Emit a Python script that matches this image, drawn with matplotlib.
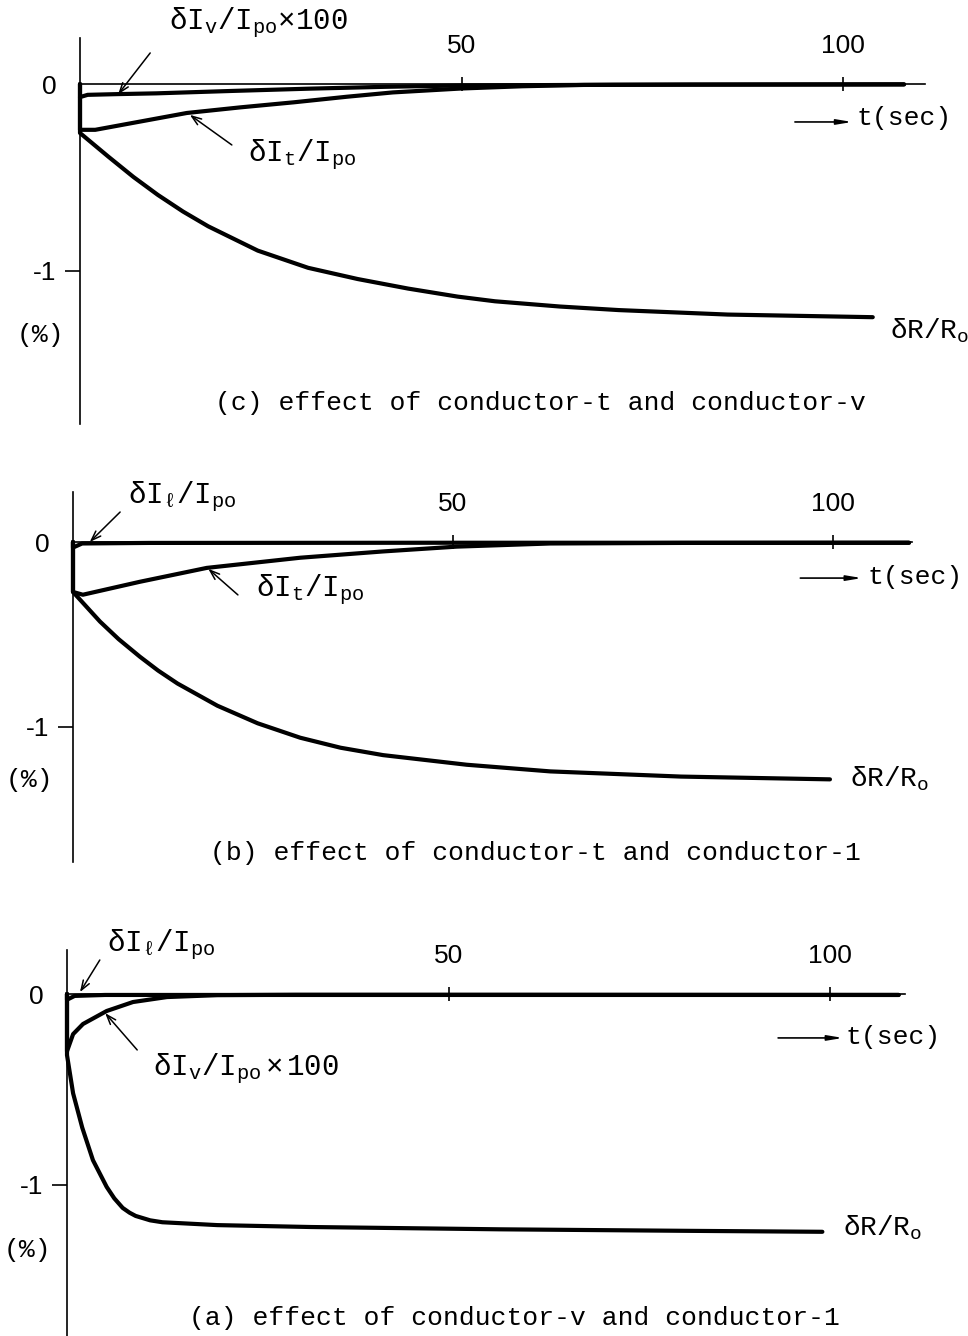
import matplotlib
matplotlib.use("Agg")
import matplotlib.pyplot as plt

plt.rcParams['mathtext.fontset'] = 'custom'
plt.rcParams['mathtext.rm'] = 'Liberation Mono'
plt.rcParams['mathtext.it'] = 'Liberation Mono'
plt.rcParams['mathtext.bf'] = 'Liberation Mono:bold'
plt.rcParams['font.family'] = ['Liberation Mono', 'DejaVu Sans']

W, H = 968, 1336

# ---------------- data (t in sec, values in %) ----------------
# panel (c): conductor-t and conductor-v
c_dIv_t = [0, 0, 1, 5, 10, 20, 30, 40, 50, 70, 90, 108]
c_dIv = [0, -0.07, -0.058, -0.054, -0.05, -0.037, -0.025, -0.015, -0.008, -0.004, -0.003, -0.002]
c_dIt_t = [0, 0, 2, 8, 14, 21, 28, 35, 41, 50, 58, 66, 80, 108]
c_dIt = [-0.07, -0.245, -0.245, -0.2, -0.155, -0.125, -0.098, -0.068, -0.045, -0.024, -0.012, -0.005, -0.003, -0.002]
c_dR_t = [0, 0, 3.7, 7.0, 10.2, 13.5, 16.8, 23.3, 29.9, 36.4, 43.0, 49.5, 54.4, 62.9, 70.6, 84.9, 103.9]
c_dR = [0, -0.262, -0.388, -0.497, -0.593, -0.682, -0.761, -0.891, -0.983, -1.043, -1.094, -1.137, -1.162, -1.19, -1.209, -1.233, -1.247]

# panel (b): conductor-t and conductor-l
b_dIl_t = [0, 0, 1.2, 10, 50, 110]
b_dIl = [0, -0.03, -0.008, -0.005, -0.004, -0.004]
b_dIt_t = [0, 0, 1.3, 8.8, 17.6, 29.9, 40.8, 50.5, 62.8, 80, 110]
b_dIt = [0, -0.27, -0.285, -0.215, -0.14, -0.085, -0.051, -0.025, -0.008, -0.005, -0.004]
b_dR_t = [0, 0, 3.55, 6.0, 8.8, 11.2, 13.75, 19.0, 24.3, 29.9, 35.2, 40.8, 51.8, 62.8, 80, 99.6]
b_dR = [0, -0.27, -0.43, -0.525, -0.62, -0.695, -0.765, -0.885, -0.98, -1.058, -1.112, -1.152, -1.204, -1.24, -1.268, -1.283]

# panel (a): conductor-v and conductor-l
a_dIl_t = [0, 0, 1, 5, 109]
a_dIl = [0, -0.03, -0.01, -0.005, -0.005]
a_dIv_t = [0, 0, 0.8, 2.1, 5.2, 8.65, 13.1, 19.7, 30, 60, 109]
a_dIv = [0, -0.30, -0.21, -0.157, -0.089, -0.042, -0.016, -0.006, -0.004, -0.004, -0.005]
a_dR_t = [0, 0, 0.8, 2.0, 3.4, 5.2, 6.2, 7.3, 8.2, 9.0, 10.9, 12.5, 19.7, 32, 56.7, 81.4, 99]
a_dR = [0, -0.32, -0.52, -0.70, -0.87, -1.01, -1.07, -1.12, -1.145, -1.162, -1.185, -1.195, -1.21, -1.22, -1.232, -1.24, -1.245]

x_ticks = [50, 100]
x_ticklabels = ['50', '100']
y_ticks = [0, -1]
y_ticklabels = ['0', '-1']

fig = plt.figure(figsize=(W / 100, H / 100), dpi=100)

LW = 3.0
FS = 19
FM = 21


def panel(band_top, band_bot, x0, pxs, y0, pyu, ybounds, xend):
    ax = fig.add_axes([0, 1 - band_bot / H, 1, (band_bot - band_top) / H])
    ax.set_xlim(-x0 / pxs, (W - x0) / pxs)
    ax.set_ylim(-(band_bot - y0) / pyu, (y0 - band_top) / pyu)
    ax.patch.set_visible(False)
    for s in ['right', 'bottom']:
        ax.spines[s].set_visible(False)
    ax.spines['left'].set_position(('data', 0))
    ax.spines['left'].set_bounds(*ybounds)
    ax.spines['top'].set_position(('data', 0))
    ax.spines['top'].set_bounds(0, xend)
    for s in ['left', 'top']:
        ax.spines[s].set_linewidth(1.2)
    ax.xaxis.set_ticks_position('top')
    ax.set_xticks(x_ticks)
    ax.set_xticklabels(x_ticklabels)
    ax.tick_params(axis='x', direction='inout', length=9.5, width=1.2, pad=14,
                   labelsize=FS, labelfontfamily='Liberation Sans')
    ax.set_yticks(y_ticks)
    ax.set_yticklabels(y_ticklabels)
    ax.tick_params(axis='y', direction='out', length=11, width=1.2, pad=6,
                   labelsize=FS, labelfontfamily='Liberation Sans')
    ax.yaxis.get_major_ticks()[0].tick1line.set_visible(False)
    return ax


def curve(ax, t, v):
    ax.plot(t, v, color='k', lw=LW, solid_joinstyle='round', solid_capstyle='round')


def arrow(ax, tip, tail):
    ax.annotate('', xy=tip, xytext=tail,
                arrowprops=dict(arrowstyle='->,head_length=0.7,head_width=0.25',
                                lw=1.1, color='k', shrinkA=0, shrinkB=0))


def tsec(ax, t0, t1, v, tt, vt):
    ax.annotate('', xy=(t1, v), xytext=(t0, v),
                arrowprops=dict(arrowstyle='-|>,head_length=0.9,head_width=0.15',
                                lw=1.2, color='k', shrinkA=0, shrinkB=0))
    ax.text(tt, vt, 't(sec)', fontsize=FS, ha='left', va='center')


# ---------- panel (c) ----------
ax = panel(0, 445, 80, 7.63, 84, 187, (-1.82, 0.246), 110.7)
curve(ax, c_dR_t, c_dR)
curve(ax, c_dIt_t, c_dIt)
curve(ax, c_dIv_t, c_dIv)
ax.text(11.6, 0.33, r'$\mathrm{\delta I_v/I_{po}{\times}100}$', fontsize=FM, ha='left', va='center')
arrow(ax, (5.0, -0.055), (9.2, 0.166))
ax.text(22.0, -0.38, r'$\mathrm{\delta I_t/I_{po}}$', fontsize=FM, ha='left', va='center')
arrow(ax, (14.4, -0.165), (19.9, -0.326))
tsec(ax, 93.7, 101.2, -0.203, 101.8, -0.18)
ax.text(106.2, -1.32, r'$\mathrm{\delta R/R_o}$', fontsize=20, ha='left', va='center')
ax.text(-5.2, -1.34, '(%)', fontsize=FS, ha='center', va='center')
ax.text(60.3, -1.706, '(c) effect of conductor-t and conductor-v', fontsize=FS, ha='center', va='center')

# ---------- panel (b) ----------
ax = panel(445, 900, 73, 7.6, 542, 185, (-1.73, 0.27), 110.4)
curve(ax, b_dR_t, b_dR)
curve(ax, b_dIt_t, b_dIt)
curve(ax, b_dIl_t, b_dIl)
ax.text(7.3, 0.243, r'$\mathrm{\delta I_\ell/I_{po}}$', fontsize=FM, ha='left', va='center')
arrow(ax, (2.2, 0.0), (6.2, 0.162))
ax.text(24.1, -0.26, r'$\mathrm{\delta I_t/I_{po}}$', fontsize=FM, ha='left', va='center')
arrow(ax, (17.8, -0.145), (21.7, -0.286))
tsec(ax, 95.7, 103.8, -0.195, 104.6, -0.19)
ax.text(102.2, -1.28, r'$\mathrm{\delta R/R_o}$', fontsize=20, ha='left', va='center')
ax.text(-5.7, -1.286, '(%)', fontsize=FS, ha='center', va='center')
ax.text(60.8, -1.68, '(b) effect of conductor-t and conductor-1', fontsize=FS, ha='center', va='center')

# ---------- panel (a) ----------
ax = panel(900, 1336, 67, 7.63, 994, 191, (-1.79, 0.23), 109.8)
curve(ax, a_dR_t, a_dR)
curve(ax, a_dIv_t, a_dIv)
curve(ax, a_dIl_t, a_dIl)
ax.text(5.2, 0.257, r'$\mathrm{\delta I_\ell/I_{po}}$', fontsize=FM, ha='left', va='center')
arrow(ax, (1.7, 0.01), (4.3, 0.178))
ax.text(11.3, -0.39, r'$\mathrm{\delta I_v/I_{po}\times 100}$', fontsize=FM, ha='left', va='center')
arrow(ax, (5.0, -0.1), (9.2, -0.293))
tsec(ax, 93.2, 101.7, -0.23, 102.0, -0.225)
ax.text(101.7, -1.225, r'$\mathrm{\delta R/R_o}$', fontsize=20, ha='left', va='center')
ax.text(-5.2, -1.34, '(%)', fontsize=FS, ha='center', va='center')
ax.text(58.7, -1.696, '(a) effect of conductor-v and conductor-1', fontsize=FS, ha='center', va='center')

fig.savefig('out.png', dpi=100)
